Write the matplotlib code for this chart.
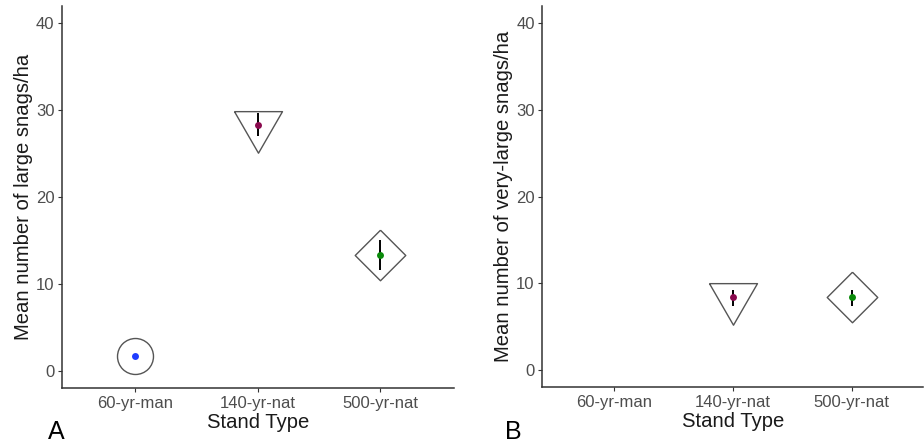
import numpy as np
import matplotlib
matplotlib.use("Agg")
import matplotlib.pyplot as plt

plt.rcParams['font.family'] = ['Liberation Sans', 'DejaVu Sans']

stands = ["60-yr-man", "140-yr-nat", "500-yr-nat"]
dot_colors = ["#1f3cff", "#8a0a4e", "#0a8a0a"]

# Large snags per ha: mean and standard-error bounds
large_mean = [1.65, 28.35, 13.35]
large_low = [np.nan, 27.0, 11.65]
large_high = [np.nan, 29.7, 15.1]

# Very-large snags per ha (none recorded in the managed stands)
vlarge_mean = [np.nan, 8.35, 8.35]
vlarge_low = [np.nan, 7.4, 7.4]
vlarge_high = [np.nan, 9.2, 9.2]

# Outline shapes: open circle, downward triangle (centroid-centred), diamond
h = np.sqrt(3)
tri_down = [(-1, h / 3), (1, h / 3), (0, -2 * h / 3), (-1, h / 3)]
diamond = [(0, 1), (1, 0), (0, -1), (-1, 0), (0, 1)]
shapes = ["o", tri_down, diamond]
shape_sizes = [25.9, 39.9, 36.4]

fig = plt.figure(figsize=(9.24, 4.45), dpi=100)
ax_a = fig.add_axes([0.0671, 0.128, 0.4242, 0.8585])
ax_b = fig.add_axes([0.5869, 0.1303, 0.4123, 0.8562])

def draw_panel(ax, mean, low, high, ylabel, letter, letter_x):
    x = np.arange(1, len(stands) + 1)
    for i in range(len(stands)):
        if np.isnan(mean[i]):
            continue
        ax.plot(x[i], mean[i], marker=shapes[i], markersize=shape_sizes[i],
                markerfacecolor="none", markeredgecolor="#555555",
                markeredgewidth=1.0, linestyle="none", zorder=2)
        if not np.isnan(low[i]):
            ax.vlines(x[i], low[i], high[i], color="black", linewidth=1.4, zorder=3)
        ax.plot(x[i], mean[i], marker="o", markersize=5.0, color=dot_colors[i],
                markeredgewidth=0, linestyle="none", zorder=4)
    ax.set_xlim(0.4, 3.6)
    ax.set_ylim(-2.0, 42.0)
    ax.set_xticks(x)
    ax.set_xticklabels(stands)
    ax.set_yticks([0, 10, 20, 30, 40])
    for side in ("top", "right"):
        ax.spines[side].set_visible(False)
    for side in ("left", "bottom"):
        ax.spines[side].set_color("#333333")
        ax.spines[side].set_linewidth(1.1)
    ax.tick_params(axis="both", colors="#333333", length=3, width=0.8,
                   labelsize=12, labelcolor="#4d4d4d", pad=2.5)
    ax.set_xlabel("Stand Type", fontsize=14.6, color="#1a1a1a", labelpad=1.5)
    ax.set_ylabel(ylabel, fontsize=14.6, color="#1a1a1a", labelpad=2)
    fig.text(letter_x, 0.003, letter, fontsize=18, color="black",
             ha="left", va="bottom")

draw_panel(ax_a, large_mean, large_low, large_high,
           "Mean number of large snags/ha", "A", 0.052)
draw_panel(ax_b, vlarge_mean, vlarge_low, vlarge_high,
           "Mean number of very-large snags/ha", "B", 0.547)

fig.savefig("out.png", dpi=100)
